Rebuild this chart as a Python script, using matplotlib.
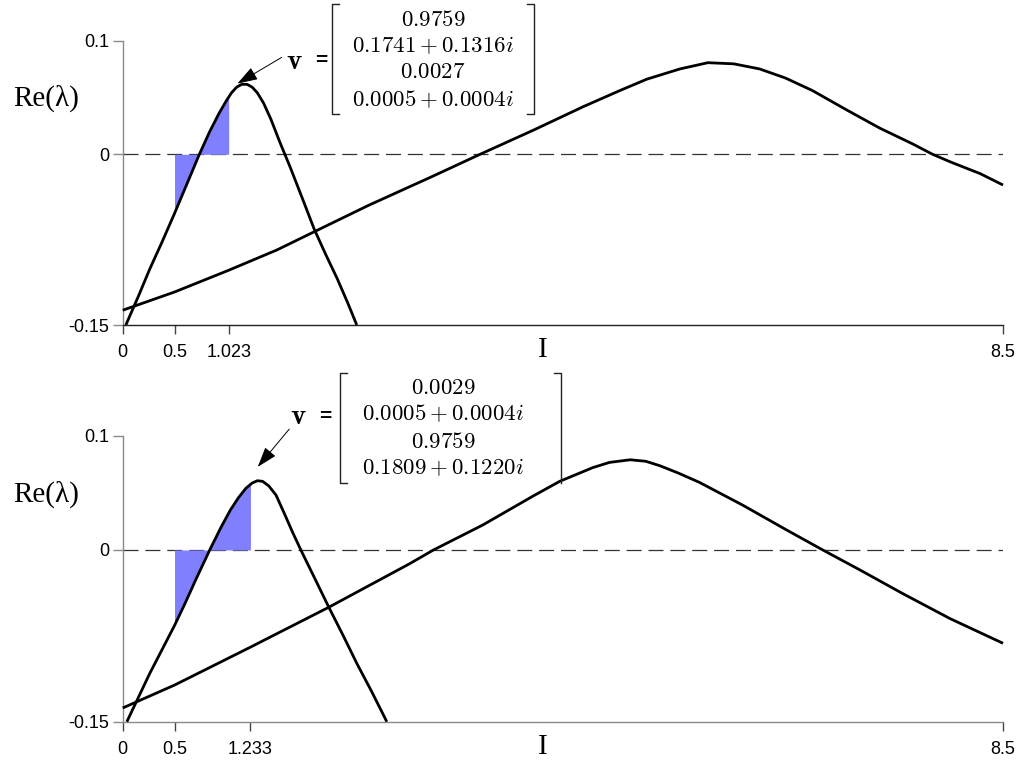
import matplotlib
matplotlib.use('Agg')
import matplotlib.pyplot as plt
import numpy as np
from matplotlib.lines import Line2D
from matplotlib.patches import FancyArrowPatch

plt.rcParams['mathtext.fontset'] = 'cm'

W, H = 1021, 770

# ---------------- data ----------------
y_ticks = [-0.15, 0, 0.1]
y_ticklabels = ['-0.15', '0', '0.1']

x_ticks_top = [0, 0.5, 1.023, 8.5]
x_ticklabels_top = ['0', '0.5', '1.023', '8.5']
x_ticks_bot = [0, 0.5, 1.233, 8.5]
x_ticklabels_bot = ['0', '0.5', '1.233', '8.5']

fill_top = (0.5, 1.023)
fill_bot = (0.5, 1.233)

top_narrow_x = [0.03, 0.15, 0.26, 0.38, 0.50, 0.62, 0.74, 0.84, 0.93, 1.00, 1.05, 1.10, 1.15,
                1.20, 1.25, 1.30, 1.36, 1.43, 1.52, 1.62, 1.74, 1.85, 1.96, 2.07, 2.17, 2.26]
top_narrow_y = [-0.150, -0.125, -0.101, -0.077, -0.052, -0.026, 0.000, 0.020, 0.036, 0.047, 0.054, 0.059, 0.0615,
                0.0615, 0.059, 0.054, 0.045, 0.031, 0.010, -0.012, -0.040, -0.066, -0.088, -0.109, -0.130, -0.150]

top_broad_x = [0, 0.5, 1.02, 1.49, 1.85, 2.37, 3.0, 3.45, 3.96, 4.45, 4.80, 5.06, 5.38, 5.65,
               5.90, 6.15, 6.40, 6.66, 6.99, 7.31, 7.63, 7.82, 8.0, 8.28, 8.5]
top_broad_y = [-0.137, -0.121, -0.102, -0.084, -0.068, -0.045, -0.019, 0.000, 0.021, 0.042, 0.056, 0.066, 0.075, 0.0805,
               0.0795, 0.075, 0.067, 0.056, 0.039, 0.023, 0.009, 0.000, -0.007, -0.017, -0.027]

bot_narrow_x = [0.04, 0.15, 0.26, 0.38, 0.50, 0.60, 0.70, 0.84, 0.95, 1.04, 1.12, 1.19, 1.25, 1.30,
                1.35, 1.41, 1.48, 1.56, 1.64, 1.72, 1.85, 1.99, 2.13, 2.26, 2.40, 2.55]
bot_narrow_y = [-0.150, -0.129, -0.108, -0.087, -0.066, -0.047, -0.027, 0.000, 0.020, 0.035, 0.046, 0.054, 0.0585, 0.0605,
                0.060, 0.056, 0.048, 0.032, 0.0155, 0.000, -0.024, -0.050, -0.075, -0.099, -0.123, -0.150]

bot_broad_x = [0, 0.5, 1.23, 1.99, 2.77, 3.0, 3.48, 3.96, 4.22, 4.54, 4.70, 4.90, 5.05, 5.19, 5.37,
               5.57, 5.99, 6.41, 6.76, 7.12, 7.53, 7.99, 8.5]
bot_broad_y = [-0.138, -0.118, -0.085, -0.050, -0.012, 0.000, 0.022, 0.047, 0.060, 0.072, 0.0765, 0.0788, 0.0775, 0.0735, 0.067,
               0.059, 0.039, 0.0175, 0.000, -0.0175, -0.038, -0.060, -0.0815]

vec_top = ['0.9759', '0.1741 + 0.1316i', '0.0027', '0.0005 + 0.0004i']
vec_bot = ['0.0029', '0.0005 + 0.0004i', '0.9759', '0.1809 + 0.1220i']

# ---------------- figure ----------------
fig = plt.figure(figsize=(W / 100, H / 100), dpi=100)


def fx(px):
    return px / W


def fy(py):
    return 1 - py / H


def setup_axes(rect, xticks, xlabels, bottom_color):
    ax = fig.add_axes(rect)
    ax.set_xlim(0, 8.5)
    ax.set_ylim(-0.15, 0.1)
    for s in ['top', 'right']:
        ax.spines[s].set_visible(False)
    ax.spines['left'].set_color('#8a8a8a')
    ax.spines['left'].set_linewidth(1.0)
    ax.spines['bottom'].set_color(bottom_color)
    ax.spines['bottom'].set_linewidth(1.0)
    ax.set_yticks(y_ticks)
    ax.set_yticklabels(y_ticklabels, fontfamily='Liberation Sans', fontsize=13)
    ax.set_xticks(xticks)
    ax.set_xticklabels(xlabels, fontfamily='Liberation Sans', fontsize=13)
    ax.tick_params(axis='y', length=7, width=1.0, color='#8a8a8a', pad=2.5)
    ax.tick_params(axis='x', length=6.5, width=1.0, color='#444444', pad=7.5)
    ax.axhline(0, color='#333333', lw=0.9, linestyle=(0, (12, 5.5)), zorder=1)
    return ax


def draw_panel(ax, nx, ny, bx, by, frange):
    nx = np.asarray(nx)
    ny = np.asarray(ny)
    lo, hi = frange
    sel = (nx > lo) & (nx < hi)
    fxs = np.concatenate([[lo], nx[sel], [hi]])
    fys = np.concatenate([[np.interp(lo, nx, ny)], ny[sel], [np.interp(hi, nx, ny)]])
    ax.fill_between(fxs, fys, 0, color='#8080ff', lw=0, zorder=2)
    ax.plot(bx, by, color='black', lw=2.0, zorder=3, clip_on=False,
            solid_capstyle='butt', solid_joinstyle='round')
    ax.plot(nx, ny, color='black', lw=2.0, zorder=3, clip_on=False,
            solid_capstyle='butt', solid_joinstyle='round')


ax1 = setup_axes([0.1202, 0.5779, 0.8622, 0.3695], x_ticks_top, x_ticklabels_top, '#222222')
draw_panel(ax1, top_narrow_x, top_narrow_y, top_broad_x, top_broad_y, fill_top)

ax2 = setup_axes([0.1202, 0.0627, 0.8622, 0.3717], x_ticks_bot, x_ticklabels_bot, '#8a8a8a')
draw_panel(ax2, bot_narrow_x, bot_narrow_y, bot_broad_x, bot_broad_y, fill_bot)

# axis labels
for (py_re, py_i) in [(98, 350), (494, 747)]:
    fig.text(fx(46), fy(py_re), 'Re(λ)', fontfamily='Liberation Serif', fontsize=21,
             ha='center', va='center')
    fig.text(fx(543), fy(py_i), 'I', fontfamily='Liberation Serif', fontsize=21,
             ha='center', va='center')


def bracket(x, top, bot, direction, bottom_serif=True):
    s = 7 * direction
    xs = [fx(x + s), fx(x), fx(x)]
    ys = [fy(top), fy(top), fy(bot)]
    if bottom_serif:
        xs.append(fx(x + s))
        ys.append(fy(bot))
    fig.add_artist(Line2D(xs, ys, transform=fig.transFigure, color='#222222', lw=1.0))


def vector(entries, left, right, top, bot, rows, cx, vpos, eqpos, arrow_from, arrow_to,
           right_serif=True):
    bracket(left, top, bot, 1)
    bracket(right, top, bot, -1, right_serif)
    for txt, ry in zip(entries, rows):
        fig.text(fx(cx), fy(ry), '$' + txt + '$', fontsize=16.5, ha='center', va='center')
    fig.text(fx(vpos[0]), fy(vpos[1]), r'$\mathbf{v}$', fontsize=21, ha='center', va='center')
    fig.text(fx(eqpos[0]), fy(eqpos[1]), '=', fontfamily='Liberation Sans', fontsize=15,
             fontweight='bold', ha='center', va='center')
    fig.add_artist(FancyArrowPatch(
        (fx(arrow_from[0]), fy(arrow_from[1])), (fx(arrow_to[0]), fy(arrow_to[1])),
        transform=fig.transFigure, arrowstyle='-|>,head_length=0.9,head_width=0.3',
        mutation_scale=14, lw=0.7, color='black'))


vector(vec_top, 332, 534, 4, 114, [19, 46, 72, 100], 433, (294, 61), (321, 61),
       (284, 56), (235, 85))
vector(vec_bot, 340, 561, 373, 483, [387, 414, 441, 468], 443, (298, 416), (325, 417),
       (291, 427), (256, 469), right_serif=False)

fig.savefig('out.png', dpi=100)
